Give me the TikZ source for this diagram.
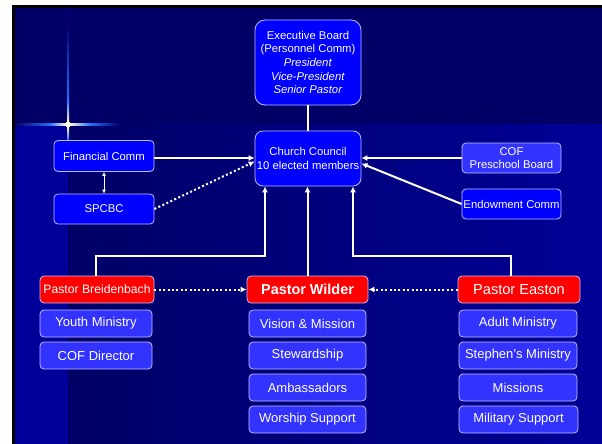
\documentclass[tikz,border=0pt]{standalone}
\usepackage{fontspec}
\setmainfont{Liberation Sans}
\usetikzlibrary{arrows.meta}
\definecolor{slidetop}{RGB}{0,0,102}
\definecolor{slidelow}{RGB}{0,0,150}
\definecolor{stripblue}{RGB}{0,0,153}
\definecolor{glowblue}{RGB}{40,110,255}
\definecolor{boxblue}{RGB}{0,0,255}
\definecolor{minblue}{RGB}{51,51,255}
\definecolor{boxline}{RGB}{190,190,255}
\tikzset{
  box/.style={draw=boxline, line width=0.8pt, fill=boxblue, rounded corners=4pt,
    text=white, align=center, inner sep=0pt,
    font=\fontsize{11.3}{13.7}\selectfont},
  topbox/.style={box, rounded corners=10pt, minimum width=106pt},
  minbox/.style={box, fill=minblue, minimum height=27pt,
    font=\fontsize{13}{15}\selectfont},
  pastor/.style={box, fill=red, minimum height=27pt},
  link/.style={draw=white, line width=2pt},
  arr/.style={link, -{Latex[length=6pt,width=6pt]}},
  dotarr/.style={arr, dash pattern=on 2pt off 2.4pt},
}
\begin{document}
\begin{tikzpicture}[x=1pt,y=-1pt]
  \useasboundingbox (0,0) rectangle (602,444);
  % slide background
  \fill[white] (0,0) rectangle (602,444);
  \fill[black] (12,5) rectangle (602,444);
  \fill[slidetop] (15,8) rectangle (602,124);
  \shade[left color=slidetop, right color=slidelow] (68,124) rectangle (602,444);
  \fill[stripblue] (15,124) rectangle (68,444);
  \fill[stripblue!70!slidetop] (67.5,8) rectangle (68.5,124);
  % glow cross
  \shade[left color=slidetop, right color=glowblue] (15,123) rectangle (50,125.5);
  \shade[left color=glowblue, right color=white!80!yellow] (50,123) rectangle (66,125.5);
  \shade[left color=white!80!yellow, right color=glowblue] (70,123) rectangle (90,125.5);
  \shade[left color=glowblue, right color=slidetop] (90,123) rectangle (120,125.5);
  \shade[top color=slidetop, bottom color=glowblue] (67,22) rectangle (69,100);
  \shade[top color=glowblue, bottom color=white!80!yellow] (67,100) rectangle (69,122);
  \shade[top color=white!80!yellow, bottom color=glowblue] (67,127) rectangle (69,140);
  \fill[white!85!yellow] (66,122) rectangle (70,127);

  % top
  \node[topbox, minimum height=85pt] (exec) at (308,62.5)
    {Executive Board\\(Personnel Comm)\\\textit{President}\\\textit{Vice-President}\\\textit{Senior Pastor}};
  \node[topbox, rounded corners=8pt, minimum height=55pt] (council) at (308,158.5)
    {Church Council\\10 elected members};

  % committees
  \node[box, minimum width=100pt, minimum height=31pt] (fin) at (104,156) {Financial Comm};
  \node[box, minimum width=100pt, minimum height=30pt] (spcbc) at (104,209) {SPCBC};
  \node[box, fill=minblue, minimum width=99pt, minimum height=30pt] (cof) at (511.5,158) {COF\\Preschool Board};
  \node[box, minimum width=99pt, minimum height=30pt] (endow) at (511.5,204) {Endowment Comm};

  % pastors
  \node[pastor, minimum width=114pt, font=\fontsize{12.2}{14}\selectfont] (breid) at (97,289.5) {Pastor Breidenbach};
  \node[pastor, minimum width=121pt, font=\fontsize{14.4}{16}\selectfont\bfseries] (wilder) at (307.5,289.5) {Pastor Wilder};
  \node[pastor, minimum width=122pt, font=\fontsize{14.6}{16}\selectfont] (easton) at (519,289.5) {Pastor Easton};

  % ministries
  \node[minbox, minimum width=112pt] (youth) at (96,323.5) {Youth Ministry};
  \node[minbox, minimum width=112pt] (cofdir) at (96,355.5) {COF Director};
  \node[minbox, minimum width=117pt] (vision) at (307.5,323.5) {Vision \& Mission};
  \node[minbox, minimum width=117pt] (steward) at (307.5,355.5) {Stewardship};
  \node[minbox, minimum width=117pt] (ambass) at (307.5,387.5) {Ambassadors};
  \node[minbox, minimum width=117pt] (worship) at (307.5,419.5) {Worship Support};
  \node[minbox, minimum width=118pt] (adult) at (518,323.5) {Adult Ministry};
  \node[minbox, minimum width=118pt] (stephen) at (518,355.5) {Stephen’s Ministry};
  \node[minbox, minimum width=118pt] (missions) at (518,387.5) {Missions};
  \node[minbox, minimum width=119pt] (military) at (518.5,419.5) {Military Support};

  % connectors
  \draw[link] (exec) -- (council);
  \draw[arr] ([yshift=-2pt]fin.east) -- ([yshift=-2pt]fin.east -| council.west);
  \draw[draw=white, line width=1pt, {Latex[length=4pt,width=4pt]}-{Latex[length=4pt,width=4pt]}] (fin) -- (spcbc);
  \draw[dotarr] (spcbc.east) -- ([yshift=-3pt]council.west);
  \draw[arr] (cof.west) -- (cof.west -| council.east);
  \draw[arr] (endow.west) -- ([yshift=-5pt]council.east);
  \draw[arr] ([xshift=-1pt]breid.north) -- ++(0,-20) -| ([xshift=-43pt]council.south);
  \draw[arr] (wilder.north) -- (wilder.north |- council.south);
  \draw[arr] ([xshift=-8pt]easton.north) -- ++(0,-20) -| ([xshift=45pt]council.south);
  \draw[dotarr] (breid.east) -- (wilder.west);
  \draw[dotarr] (easton.west) -- (wilder.east);
\end{tikzpicture}
\end{document}
